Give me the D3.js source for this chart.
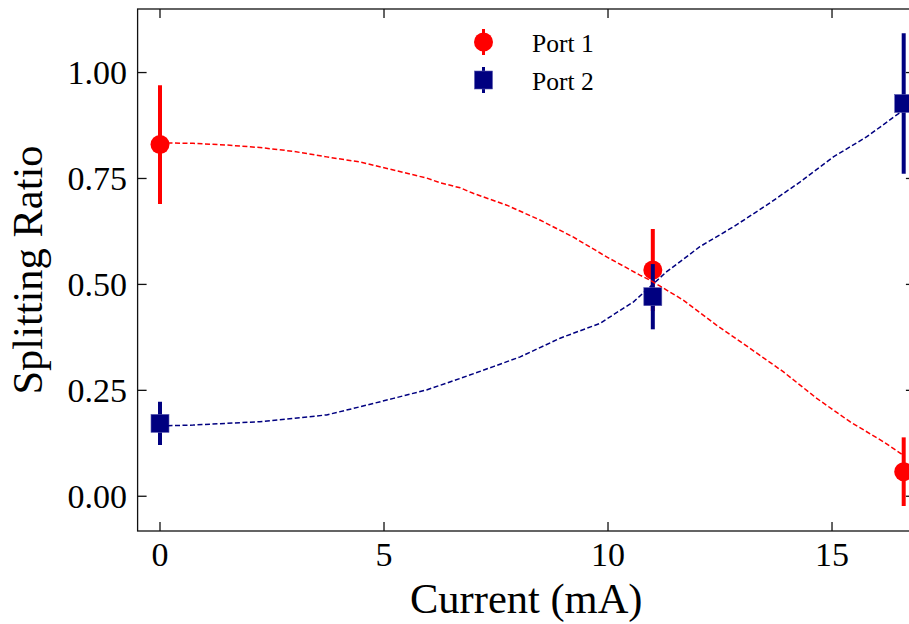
<!DOCTYPE html>
<html>
<head>
<meta charset="utf-8">
<script src="https://cdn.jsdelivr.net/npm/d3@7"></script>
<style>
  html, body { margin: 0; padding: 0; background: #fff; }
  svg { display: block; }
  text { font-family: "Liberation Serif", "Times New Roman", serif; fill: #000; }
</style>
</head>
<body>
<svg id="chart" width="909" height="624"></svg>
<script>
// ---- data ----
const seriesNames = ["Port 1", "Port 2"];
const seriesColors = ["#ff0000", "#000080"];

const pointCurrent = [0, 11, 16.6];
const port1Ratio = [0.830, 0.534, 0.058];
const port1Err   = [0.140, 0.097, 0.081];
const port2Ratio = [0.172, 0.471, 0.927];
const port2Err   = [0.051, 0.077, 0.166];

const curveCurrent1 = [0, 0.74, 1.49, 2.23, 2.98, 3.72, 4.46, 5.21, 5.95, 6.25, 6.70, 6.99, 7.74, 8.48, 9.22, 9.97, 10.71, 10.94, 11.68, 12.42, 13.17, 13.91, 14.66, 15.40, 16.14, 16.59];
const curveRatio1   = [0.834, 0.833, 0.829, 0.823, 0.814, 0.801, 0.789, 0.770, 0.751, 0.740, 0.728, 0.715, 0.687, 0.652, 0.612, 0.565, 0.522, 0.510, 0.463, 0.404, 0.349, 0.294, 0.231, 0.176, 0.129, 0.097];

const curveCurrent2 = [0, 0.74, 1.49, 2.23, 2.98, 3.72, 4.46, 5.21, 5.95, 6.70, 7.44, 8.04, 8.93, 9.82, 10.57, 11.31, 12.05, 12.80, 13.54, 14.29, 15.03, 15.77, 16.47, 16.59];
const curveRatio2   = [0.166, 0.168, 0.172, 0.176, 0.184, 0.192, 0.211, 0.231, 0.251, 0.278, 0.306, 0.329, 0.373, 0.408, 0.459, 0.530, 0.589, 0.636, 0.687, 0.742, 0.801, 0.848, 0.902, 0.910];

const xTicks = [0, 5, 10, 15];
const yTicks = [0, 0.25, 0.5, 0.75, 1.0];
const yTickLabels = ["0.00", "0.25", "0.50", "0.75", "1.00"];

// ---- layout ----
const svg = d3.select("#chart");
const x = d3.scaleLinear().domain([-0.5, 16.85]).range([137.6, 914.9]);
const y = d3.scaleLinear().domain([-0.082, 1.15]).range([531, 9]);
const [x0, x1] = x.range();
const [yb, yt] = y.range();
const tickLen = 9;

svg.append("defs").append("clipPath").attr("id", "clip")
  .append("rect").attr("x", x0).attr("y", yt).attr("width", x1 - x0).attr("height", yb - yt);

const plot = svg.append("g").attr("clip-path", "url(#clip)");

function drawPoints(vals, errs, color, shape) {
  const g = plot.append("g");
  pointCurrent.forEach((c, i) => {
    g.append("line")
      .attr("x1", x(c)).attr("x2", x(c))
      .attr("y1", y(vals[i] + errs[i])).attr("y2", y(vals[i] - errs[i]))
      .attr("stroke", color).attr("stroke-width", 4);
  });
  pointCurrent.forEach((c, i) => {
    if (shape === "circle") {
      g.append("circle").attr("cx", x(c)).attr("cy", y(vals[i])).attr("r", 9.5)
        .attr("fill", color);
    } else {
      g.append("rect").attr("x", x(c) - 9).attr("y", y(vals[i]) - 9)
        .attr("width", 18).attr("height", 18).attr("fill", color)
        .attr("stroke", "#5a5ab0").attr("stroke-width", 0.6);
    }
  });
}
drawPoints(port1Ratio, port1Err, seriesColors[0], "circle");
drawPoints(port2Ratio, port2Err, seriesColors[1], "square");

const line = d3.line().x(d => x(d[0])).y(d => y(d[1]));
plot.append("path")
  .datum(d3.zip(curveCurrent1, curveRatio1))
  .attr("d", line).attr("fill", "none")
  .attr("stroke", seriesColors[0]).attr("stroke-width", 1.5)
  .attr("stroke-dasharray", "5,2.5");
plot.append("path")
  .datum(d3.zip(curveCurrent2, curveRatio2))
  .attr("d", line).attr("fill", "none")
  .attr("stroke", seriesColors[1]).attr("stroke-width", 1.5)
  .attr("stroke-dasharray", "5,2.5");

const axes = svg.append("g");
const spine = "#111";
axes.append("rect").attr("x", x0).attr("y", yt).attr("width", x1 - x0).attr("height", yb - yt)
  .attr("fill", "none").attr("stroke", spine).attr("stroke-width", 1.3);

xTicks.forEach(t => {
  axes.append("line").attr("x1", x(t)).attr("x2", x(t)).attr("y1", yb).attr("y2", yb - tickLen)
    .attr("stroke", spine).attr("stroke-width", 1.3);
  axes.append("line").attr("x1", x(t)).attr("x2", x(t)).attr("y1", yt).attr("y2", yt + tickLen)
    .attr("stroke", spine).attr("stroke-width", 1.3);
  axes.append("text").attr("x", x(t)).attr("y", 566).attr("text-anchor", "middle")
    .attr("font-size", 34).text(d3.format("d")(t));
});
yTicks.forEach((t, i) => {
  axes.append("line").attr("x1", x0).attr("x2", x0 + tickLen).attr("y1", y(t)).attr("y2", y(t))
    .attr("stroke", spine).attr("stroke-width", 1.3);
  axes.append("line").attr("x1", x1).attr("x2", x1 - tickLen).attr("y1", y(t)).attr("y2", y(t))
    .attr("stroke", spine).attr("stroke-width", 1.3);
  axes.append("text").attr("x", 127).attr("y", y(t) + 11.5).attr("text-anchor", "end")
    .attr("font-size", 34).text(yTickLabels[i]);
});

svg.append("text").attr("x", (x0 + x1) / 2).attr("y", 613).attr("text-anchor", "middle")
  .attr("font-size", 42.5).text("Current (mA)");
svg.append("text").attr("transform", `translate(42,${(yt + yb) / 2}) rotate(-90)`)
  .attr("text-anchor", "middle").attr("font-size", 42.5).text("Splitting Ratio");

const leg = svg.append("g");
const legX = 483.5, legY = [42, 80];
leg.append("line").attr("x1", legX).attr("x2", legX).attr("y1", legY[0] - 13).attr("y2", legY[0] + 13)
  .attr("stroke", seriesColors[0]).attr("stroke-width", 3);
leg.append("circle").attr("cx", legX).attr("cy", legY[0]).attr("r", 9.5).attr("fill", seriesColors[0]);
leg.append("line").attr("x1", legX).attr("x2", legX).attr("y1", legY[1] - 13).attr("y2", legY[1] + 13)
  .attr("stroke", seriesColors[1]).attr("stroke-width", 3);
leg.append("rect").attr("x", legX - 9).attr("y", legY[1] - 9).attr("width", 18).attr("height", 18)
  .attr("fill", seriesColors[1]).attr("stroke", "#5a5ab0").attr("stroke-width", 0.6);
seriesNames.forEach((n, i) => {
  leg.append("text").attr("x", 532).attr("y", legY[i] + 10).attr("font-size", 25.5).text(n);
});
</script>
</body>
</html>
